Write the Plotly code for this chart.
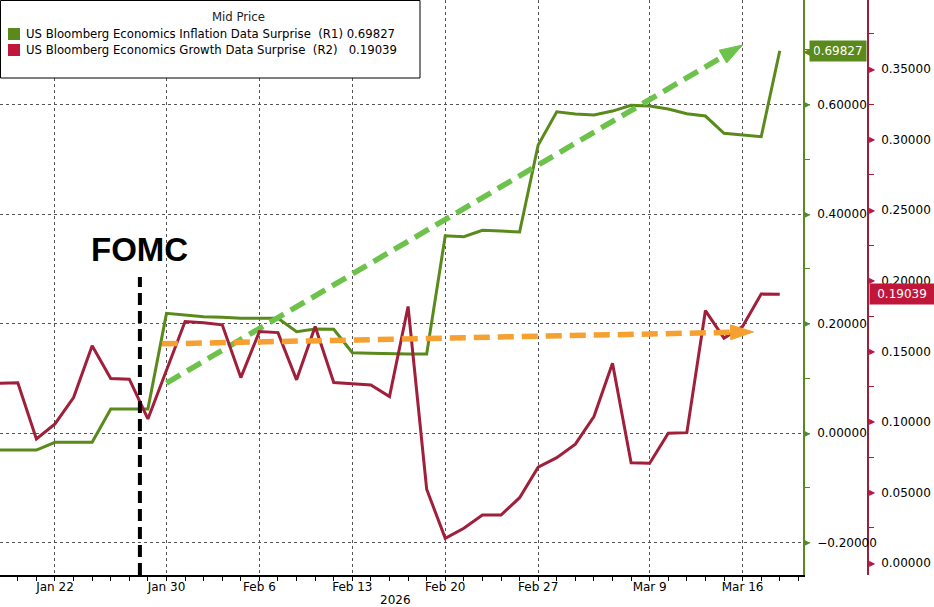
import plotly.graph_objects as go

# ---------------- data ----------------
dates = [
    "2026-01-19", "2026-01-20", "2026-01-21", "2026-01-22", "2026-01-23",
    "2026-01-26", "2026-01-27", "2026-01-28", "2026-01-29", "2026-01-30",
    "2026-02-02", "2026-02-03", "2026-02-04", "2026-02-05", "2026-02-06",
    "2026-02-09", "2026-02-10", "2026-02-11", "2026-02-12", "2026-02-13",
    "2026-02-16", "2026-02-17", "2026-02-18", "2026-02-19", "2026-02-20",
    "2026-02-23", "2026-02-24", "2026-02-25", "2026-02-26", "2026-02-27",
    "2026-03-02", "2026-03-03", "2026-03-04", "2026-03-05", "2026-03-06",
    "2026-03-09", "2026-03-10", "2026-03-11", "2026-03-12", "2026-03-13",
    "2026-03-16", "2026-03-17", "2026-03-18",
]

inflation = [
    -0.0311, -0.0311, -0.0311, -0.0170, -0.0170,
    -0.0170, 0.0438, 0.0438, 0.0438, 0.2186,
    0.2155, 0.2124, 0.2113, 0.2095, 0.2095,
    0.2095, 0.1850, 0.1900, 0.1894, 0.1467,
    0.1456, 0.1443, 0.1443, 0.1443, 0.3604,
    0.3585, 0.3702, 0.3689, 0.3671, 0.5260,
    0.5868, 0.5826, 0.5808, 0.5881, 0.5985,
    0.5973, 0.5918, 0.5832, 0.5790, 0.5474,
    0.5449, 0.5412, 0.69827,
]

growth = [
    0.1274, 0.1277, 0.0879, 0.0986, 0.1172,
    0.1539, 0.1307, 0.1303, 0.1021, 0.1369,
    0.1711, 0.1702, 0.1688, 0.1314, 0.1640,
    0.1633, 0.1298, 0.1676, 0.1279, 0.1270,
    0.1262, 0.1179, 0.1818, 0.0523, 0.0175,
    0.0246, 0.0340, 0.0340, 0.0463, 0.0679,
    0.0747, 0.0842, 0.1038, 0.1416, 0.0711,
    0.0707, 0.0920, 0.0924, 0.1789, 0.1594,
    0.1676, 0.1906, 0.19039,
]

x_tick_dates = ["2026-01-22", "2026-01-30", "2026-02-06", "2026-02-13",
                "2026-02-20", "2026-02-27", "2026-03-09", "2026-03-16"]
x_tick_labels = ["Jan 22", "Jan 30", "Feb 6", "Feb 13",
                 "Feb 20", "Feb 27", "Mar 9", "Mar 16"]
x_year_label = "2026"

r1_ticks = [-0.2, 0.0, 0.2, 0.4, 0.6]
r2_ticks = [0.0, 0.05, 0.10, 0.15, 0.20, 0.25, 0.30, 0.35]

# hand-drawn trend arrows (annotation overlays)
green_arrow_x = ["2026-01-30", "2026-03-16"]
green_arrow_y = [0.0913, 0.7087]
orange_arrow_x = ["2026-01-29 18:00", "2026-03-16 14:00"]
orange_arrow_y = [0.1553, 0.1638]

fomc_date = "2026-01-28 13:40"

legend_title = "Mid Price"
legend_names = ["US Bloomberg Economics Inflation Data Surprise",
                "US Bloomberg Economics Growth Data Surprise"]
legend_tags = ["(R1)\u00a00.69827", "(R2)\u00a0\u00a0\u00a00.19039"]

GREEN = "#5a8a1c"
RED = "#a01f3a"
TAG_RED = "#c0163a"
ARROW_GREEN = "#6cc24a"
ARROW_ORANGE = "#f5a030"
FONT = "DejaVu Sans"

W, H = 934, 607
PLOT_H = 575
XDOM = 803 / W
Y2POS = 868 / W


def py(pix):
    """pixel row (from top of plot area) -> paper y"""
    return 1 - pix / PLOT_H


def px(pix):
    return pix / W


fig = go.Figure()

# main series
fig.add_trace(go.Scatter(x=dates, y=inflation, mode="lines", yaxis="y",
                         name=legend_names[0],
                         line=dict(color=GREEN, width=3), showlegend=False))
fig.add_trace(go.Scatter(x=dates, y=growth, mode="lines", yaxis="y2",
                         name=legend_names[1],
                         line=dict(color=RED, width=3), showlegend=False))

# dashed trend arrows
for ax_x, ax_y, col, yax in [(orange_arrow_x, orange_arrow_y, ARROW_ORANGE, "y2"),
                             (green_arrow_x, green_arrow_y, ARROW_GREEN, "y")]:
    fig.add_trace(go.Scatter(x=ax_x, y=ax_y, yaxis=yax,
                             mode="lines+markers", showlegend=False,
                             line=dict(color=col, width=5.5, dash="16px,8px"),
                             marker=dict(symbol=["circle", "arrow"], size=[9, 24],
                                         angleref="previous", color=col, opacity=1,
                                         line=dict(color=col, width=1))))

fig.update_layout(
    width=W, height=H,
    margin=dict(l=0, r=0, t=0, b=H - PLOT_H, autoexpand=False),
    paper_bgcolor="white", plot_bgcolor="white",
    font=dict(family=FONT, size=12, color="black"),
    showlegend=False,
    xaxis=dict(
        domain=[0, XDOM], type="date", automargin=False,
        range=["2026-01-19 01:00", "2026-03-19 06:00"],
        rangebreaks=[dict(bounds=["sat", "mon"])],
        tickvals=x_tick_dates, ticktext=x_tick_labels,
        showgrid=True, gridcolor="#555", griddash="dot", gridwidth=1,
        showline=True, linecolor="black", linewidth=1.5,
        ticks="outside", ticklen=4, tickcolor="black", ticklabelstandoff=-4,
        minor=dict(ticks="outside", ticklen=4, dtick=86400000,
                   tick0="2026-01-19", tickcolor="black", showgrid=False),
        tickfont=dict(family=FONT, size=12),
        zeroline=False,
    ),
    yaxis=dict(
        side="right", anchor="x", automargin=False,
        range=[-0.2594, 0.791],
        tickvals=r1_ticks, tickformat=".5f",
        showgrid=True, gridcolor="#555", griddash="dot", gridwidth=1,
        showline=True, linecolor=GREEN, linewidth=1.5,
        ticks="", ticklabelstandoff=10,
        minor=dict(ticks="outside", ticklen=5, dtick=0.1, tick0=0,
                   tickcolor=GREEN, showgrid=False),
        zeroline=False,
        tickfont=dict(family=FONT, size=12),
    ),
    yaxis2=dict(
        side="right", overlaying="y", anchor="free", position=Y2POS,
        automargin=False,
        range=[-0.0085, 0.399],
        tickvals=r2_ticks, tickformat=".5f",
        showgrid=False,
        showline=True, linecolor=RED, linewidth=1.5,
        ticks="", ticklabelstandoff=10,
        minor=dict(ticks="outside", ticklen=5, dtick=0.025, tick0=0,
                   tickcolor=RED, showgrid=False),
        zeroline=False,
        tickfont=dict(family=FONT, size=12),
    ),
)

# year label under the date axis
fig.add_annotation(x=px(395), xref="paper", y=py(600), yref="paper",
                   yanchor="middle", xanchor="center",
                   text=x_year_label, showarrow=False,
                   font=dict(family=FONT, size=12, color="black"))

# legend box (drawn)
fig.add_shape(type="rect", xref="paper", yref="paper",
              x0=px(0.5), x1=px(420), y0=py(78), y1=py(0.5),
              line=dict(color="black", width=1), fillcolor="white", layer="above")
fig.add_annotation(x=px(210), xref="paper", y=py(17), yref="paper",
                   yanchor="middle", text=legend_title, showarrow=False,
                   font=dict(family=FONT, size=11.7, color="#222"))
for i, (nm, tg, col) in enumerate(zip(legend_names, legend_tags, [GREEN, TAG_RED])):
    yc = 34 + 16 * i
    fig.add_shape(type="rect", xref="paper", yref="paper",
                  x0=px(8), x1=px(20), y0=py(yc + 6), y1=py(yc - 6),
                  line=dict(width=0), fillcolor=col, layer="above")
    fig.add_annotation(x=px(24), xref="paper", y=py(yc), yref="paper",
                       xanchor="left", yanchor="middle",
                       text=nm + "\u00a0\u00a0" + tg,
                       showarrow=False,
                       font=dict(family=FONT, size=11.7, color="black"))

# FOMC marker
fig.add_shape(type="line", xref="x", yref="paper", x0=fomc_date, x1=fomc_date,
              y0=0, y1=py(277),
              line=dict(color="black", width=4, dash="12px,6px"))
fig.add_annotation(x=fomc_date, xref="x", y=py(250), yref="paper",
                   yanchor="middle", text="<b>FOMC</b>", showarrow=False,
                   font=dict(family="Liberation Sans", size=33, color="black"))

# triangle tick markers on the value axes
for v in r1_ticks:
    fig.add_annotation(x=XDOM, xref="paper", y=v, yref="y", text="\u25b6",
                       showarrow=False, xanchor="left", xshift=-1,
                       font=dict(size=8, color=GREEN))
for v in r2_ticks:
    fig.add_annotation(x=Y2POS, xref="paper", y=v, yref="y2", text="\u25b6",
                       showarrow=False, xanchor="left", xshift=-1,
                       font=dict(size=8, color=TAG_RED))

# last-value tags
fig.add_annotation(x=XDOM, xref="paper", y=inflation[-1], yref="y",
                   text="0.69827", showarrow=False, xanchor="left", xshift=6,
                   bgcolor=GREEN, borderpad=3,
                   font=dict(family=FONT, size=12, color="white"))
fig.add_annotation(x=XDOM, xref="paper", y=inflation[-1], yref="y",
                   text="\u25c0", showarrow=False, xanchor="left", xshift=-2,
                   font=dict(size=14, color=GREEN))
fig.add_annotation(x=Y2POS, xref="paper", y=growth[-1], yref="y2",
                   text="0.19039", showarrow=False, xanchor="left", xshift=1,
                   width=58, bgcolor=TAG_RED, borderpad=3,
                   font=dict(family=FONT, size=12, color="white"))

fig.write_html("out.html",
               config={"displayModeBar": False},
               post_script="document.body.style.margin='0px';"
                           "document.body.style.overflow='hidden';")
